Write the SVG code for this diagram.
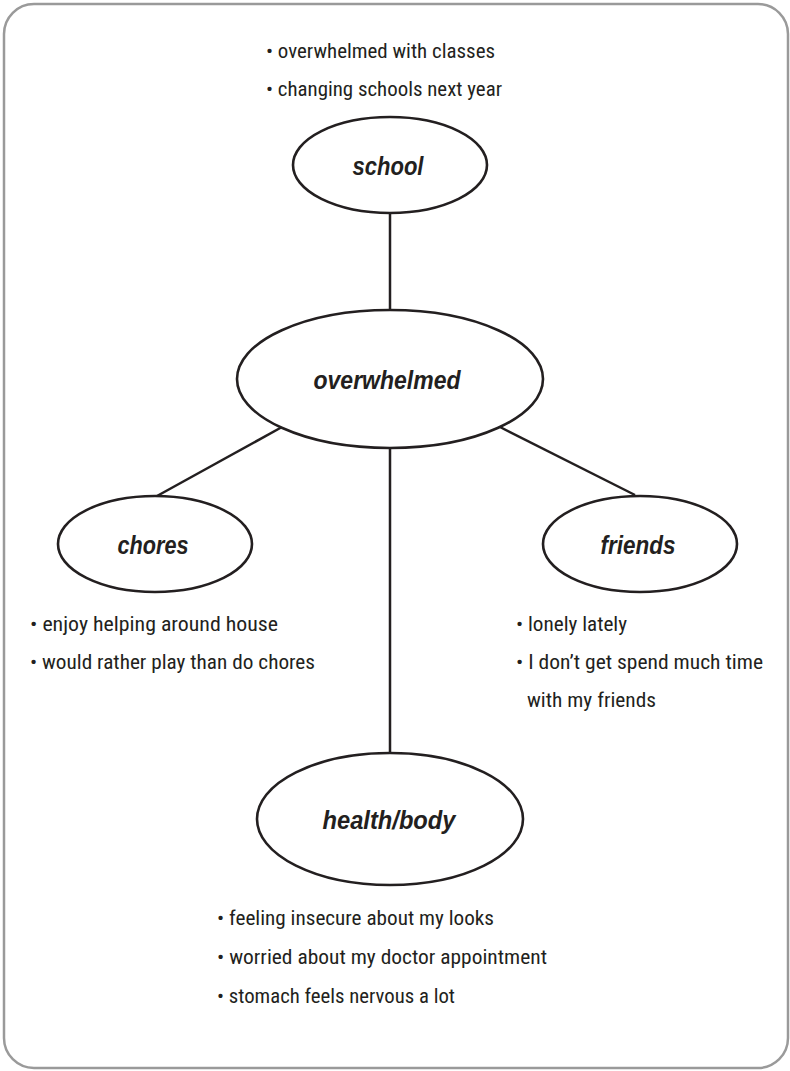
<svg xmlns="http://www.w3.org/2000/svg" width="790" height="1071" viewBox="0 0 790 1071">
<style>
.frame{fill:#fff;stroke:#9a9a9a;stroke-width:2.5}
.node ellipse{fill:#fff;stroke:#231f20;stroke-width:2.6}
.lbl{font-family:"Liberation Sans","Open Sans",sans-serif;font-weight:bold;font-style:italic;font-size:25px;fill:#231f20;text-anchor:middle}
.note{font-family:"Liberation Sans Narrow","Roboto Condensed","DejaVu Sans Condensed","Liberation Sans",sans-serif;font-size:21px;fill:#231f20}
.edges line{stroke:#231f20;stroke-width:2.5}
</style>
<rect class="frame" x="4" y="4" width="784" height="1064" rx="30" ry="30"/>
<g class="edges" id="connectors">
<line x1="390" y1="213" x2="390" y2="310"/>
<line x1="282" y1="427" x2="157" y2="496"/>
<line x1="500" y1="427" x2="635" y2="495"/>
<line x1="390" y1="448" x2="390" y2="753"/>
</g>
<g class="node" id="school">
<ellipse cx="390" cy="165" rx="97" ry="48"/>
<text class="lbl" x="388" y="175" textLength="71" lengthAdjust="spacingAndGlyphs">school</text>
</g>
<g class="node" id="overwhelmed">
<ellipse cx="390" cy="379" rx="153" ry="69"/>
<text class="lbl" x="387" y="389" textLength="147" lengthAdjust="spacingAndGlyphs">overwhelmed</text>
</g>
<g class="node" id="chores">
<ellipse cx="155" cy="544" rx="97" ry="48"/>
<text class="lbl" x="153" y="554" textLength="71" lengthAdjust="spacingAndGlyphs">chores</text>
</g>
<g class="node" id="friends">
<ellipse cx="640" cy="544" rx="97" ry="48"/>
<text class="lbl" x="638" y="554" textLength="75" lengthAdjust="spacingAndGlyphs">friends</text>
</g>
<g class="node" id="health">
<ellipse cx="390" cy="819" rx="133" ry="66"/>
<text class="lbl" x="389" y="829" textLength="133" lengthAdjust="spacingAndGlyphs">health/body</text>
</g>
<g id="school-notes">
<text class="note" x="266" y="58" textLength="229" lengthAdjust="spacingAndGlyphs">• overwhelmed with classes</text>
<text class="note" x="266" y="96" textLength="236" lengthAdjust="spacingAndGlyphs">• changing schools next year</text>
</g>
<g id="chores-notes">
<text class="note" x="30" y="631" textLength="248" lengthAdjust="spacingAndGlyphs">• enjoy helping around house</text>
<text class="note" x="30" y="669" textLength="285" lengthAdjust="spacingAndGlyphs">• would rather play than do chores</text>
</g>
<g id="friends-notes">
<text class="note" x="516" y="631" textLength="111" lengthAdjust="spacingAndGlyphs">• lonely lately</text>
<text class="note" x="516" y="669" textLength="247" lengthAdjust="spacingAndGlyphs">• I don’t get spend much time</text>
<text class="note" x="527" y="707" textLength="129" lengthAdjust="spacingAndGlyphs">with my friends</text>
</g>
<g id="health-notes">
<text class="note" x="217" y="925" textLength="277" lengthAdjust="spacingAndGlyphs">• feeling insecure about my looks</text>
<text class="note" x="217" y="964" textLength="330" lengthAdjust="spacingAndGlyphs">• worried about my doctor appointment</text>
<text class="note" x="217" y="1003" textLength="238" lengthAdjust="spacingAndGlyphs">• stomach feels nervous a lot</text>
</g>
</svg>
